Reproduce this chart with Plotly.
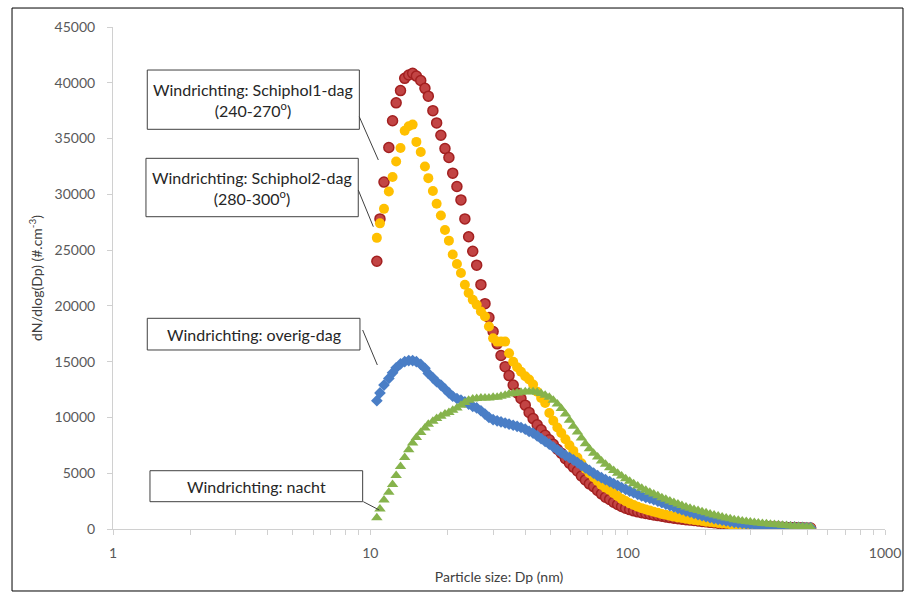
import plotly.graph_objects as go

# Particle diameter channels (nm), 64 channels per decade
dp_nm = [10.6, 10.9, 11.3, 11.8, 12.2, 12.6, 13.1, 13.6, 14.1, 14.6,
         15.1, 15.7, 16.3, 16.8, 17.5, 18.1, 18.8, 19.5, 20.2, 20.9,
         21.7, 22.5, 23.3, 24.1, 25.0, 25.9, 26.9, 27.9, 28.9, 30.0,
         31.1, 32.2, 33.4, 34.6, 35.9, 37.2, 38.5, 40.0, 41.4, 42.9,
         44.5, 46.1, 47.8, 49.6, 51.4, 53.3, 55.2, 57.3, 59.4, 61.5,
         63.8, 66.1, 68.5, 71.0, 73.7, 76.4, 79.1, 82.0, 85.1, 88.2,
         91.4, 94.7, 98.2, 101.8, 105.5, 109.4, 113.4, 117.6, 121.9, 126.3,
         131.0, 135.8, 140.7, 145.9, 151.2, 156.8, 162.5, 168.5, 174.7, 181.1,
         187.7, 194.6, 201.7, 209.1, 216.7, 224.7, 232.9, 241.4, 250.3, 259.5,
         269.0, 278.8, 289.0, 299.6, 310.6, 322.0, 333.8, 346.0, 358.7, 371.8,
         385.4, 399.5, 414.2, 429.4, 445.1, 461.4, 478.3, 495.8, 514.0]

schiphol1_dag = [24000, 27800, 31100, 34200, 36600, 38200, 39300, 40400, 40700, 40850,
                 40600, 40200, 39500, 38800, 37500, 36400, 35300, 34100, 33300, 31900,
                 30700, 29500, 27800, 26200, 24900, 23650, 21900, 20200, 18950, 17700,
                 16600, 15550, 14550, 13750, 12900, 12200, 11700, 11100, 10450, 9900,
                 9350, 8900, 8400, 8000, 7600, 7150, 6800, 6300, 5900, 5550,
                 5200, 4750, 4400, 4050, 3800, 3450, 3150, 2850, 2650, 2400,
                 2200, 2020, 1870, 1740, 1630, 1540, 1460, 1390, 1320, 1260,
                 1200, 1140, 1080, 1020, 970, 920, 880, 840, 800, 760,
                 720, 680, 640, 600, 560, 520, 490, 460, 430, 400,
                 370, 340, 315, 295, 275, 255, 235, 215, 200, 185,
                 170, 155, 145, 135, 125, 115, 105, 95, 85]

schiphol2_dag = [26100, 27400, 28700, 30250, 31550, 32950, 34150, 35700, 36100, 36250,
                 34700, 33800, 32500, 31450, 30300, 29150, 28100, 26800, 25850, 24600,
                 23750, 22950, 21900, 21150, 20550, 20100, 19500, 19050, 18150, 17100,
                 16800, 16800, 16800, 15750, 15000, 14500, 14100, 13700, 13400, 12950,
                 12300, 11750, 11300, 10400, 9700, 9100, 8600, 8050, 7500, 7000,
                 6400, 5900, 5400, 5000, 4650, 4300, 3950, 3700, 3500, 3200,
                 2950, 2700, 2500, 2300, 2150, 2000, 1870, 1750, 1650, 1550,
                 1450, 1350, 1270, 1190, 1110, 1040, 980, 920, 860, 810,
                 760, 710, 660, 620, 580, 540, 500, 465, 430, 400,
                 370, 340, 310, 285, 260, 240, 220, 200, 180, 165,
                 150, 135, 120, 110, 100, 90, 80, 70, 60]

overig_dag = [11500, 12200, 12900, 13500, 14000, 14450, 14800, 15000, 15100, 15100,
              15000, 14750, 14400, 13950, 13550, 13200, 12900, 12550, 12200, 11900,
              11700, 11550, 11400, 11200, 11000, 10850, 10600, 10300, 10000, 9800,
              9700, 9600, 9500, 9400, 9300, 9200, 9100, 8950, 8750, 8600,
              8350, 8100, 7850, 7600, 7350, 7100, 6850, 6600, 6400, 6200,
              5950, 5700, 5480, 5250, 5000, 4780, 4600, 4420, 4250, 4080,
              3900, 3720, 3560, 3400, 3250, 3100, 2960, 2830, 2750, 2620,
              2490, 2360, 2230, 2100, 1970, 1850, 1730, 1610, 1500, 1390,
              1290, 1190, 1100, 1010, 930, 860, 790, 720, 660, 600,
              550, 500, 460, 420, 385, 350, 320, 295, 270, 250,
              230, 210, 195, 180, 165, 150, 140, 130, 120]

nacht = [1000, 1800, 2600, 3300, 4000, 4800, 5600, 6400, 7100, 7700,
         8200, 8650, 9050, 9400, 9650, 9900, 10100, 10300, 10450, 10650,
         10850, 11100, 11350, 11550, 11650, 11700, 11750, 11750, 11750, 11800,
         11800, 11900, 12000, 12100, 12150, 12200, 12250, 12300, 12300, 12300,
         12250, 12150, 12000, 11800, 11550, 11200, 10800, 10300, 9750, 9200,
         8700, 8150, 7650, 7200, 6800, 6450, 6100, 5800, 5500, 5250,
         5000, 4750, 4500, 4280, 4060, 3850, 3660, 3480, 3300, 3130,
         2970, 2810, 2660, 2510, 2370, 2230, 2100, 1980, 1860, 1750,
         1650, 1550, 1450, 1350, 1250, 1160, 1070, 990, 910, 840,
         780, 720, 670, 620, 580, 540, 500, 465, 430, 400,
         370, 340, 310, 280, 255, 230, 205, 180, 160]

y_ticks = [0, 5000, 10000, 15000, 20000, 25000, 30000, 35000, 40000, 45000]
y_ticktext = ["0", "5000", "10000", "15000", "20000", "25000", "30000", "35000", "40000", "45000"]
x_major = [1, 10, 100, 1000]

labels = ["Windrichting: Schiphol1-dag<br>(240-270<sup>o</sup>)",
          "Windrichting: Schiphol2-dag<br>(280-300<sup>o</sup>)",
          "Windrichting: overig-dag",
          "Windrichting: nacht"]

FONT = "Lato"
AXIS_COLOR = "#D0D0D0"
TEXT_COLOR = "#595959"

fig = go.Figure()
fig.add_trace(go.Scatter(x=dp_nm, y=schiphol1_dag, mode="markers", name="Schiphol1-dag",
                         marker=dict(symbol="circle", size=10, color="#C24444",
                                     line=dict(color="#A32020", width=1.5))))
fig.add_trace(go.Scatter(x=dp_nm, y=schiphol2_dag, mode="markers", name="Schiphol2-dag",
                         marker=dict(symbol="circle", size=10, color="#FFC000",
                                     line=dict(width=0))))
fig.add_trace(go.Scatter(x=dp_nm, y=overig_dag, mode="markers", name="overig-dag",
                         marker=dict(symbol="diamond", size=9, color="#4A7EC6",
                                     line=dict(width=0))))
fig.add_trace(go.Scatter(x=dp_nm, y=nacht, mode="markers", name="nacht",
                         marker=dict(symbol="triangle-up", size=10, color="#86B34C",
                                     line=dict(width=0))))

# x ticks: labels only at decades, minor ticks at 2..9
xtickvals = []
xticktext = []
for dec in [1, 10, 100]:
    for m in range(1, 10):
        v = dec * m
        xtickvals.append(v)
        xticktext.append(str(v) if v in x_major else "")
xtickvals.append(1000)
xticktext.append("1000")

fig.update_layout(
    width=911, height=596,
    margin=dict(l=113, r=26, t=27, b=67, autoexpand=False),
    paper_bgcolor="white", plot_bgcolor="white",
    showlegend=False,
    font=dict(family=FONT, size=14, color=TEXT_COLOR),
    xaxis=dict(type="log", range=[0, 3], tickvals=xtickvals, ticktext=xticktext,
               ticks="outside", ticklen=5, tickcolor=AXIS_COLOR, tickwidth=1,
               ticklabelstandoff=6,
               showline=True, linecolor=AXIS_COLOR, linewidth=1,
               showgrid=False, zeroline=False, automargin=False,
               tickfont=dict(family=FONT, size=14, color=TEXT_COLOR),
               title=dict(text="Particle size: Dp (nm)", standoff=12,
                          font=dict(family=FONT, size=14, color="#404040"))),
    yaxis=dict(range=[0, 45000], tickvals=y_ticks, ticktext=y_ticktext,
               ticks="outside", ticklen=5, tickcolor=AXIS_COLOR, tickwidth=1,
               ticklabelstandoff=9,
               showline=True, linecolor=AXIS_COLOR, linewidth=1,
               showgrid=False, zeroline=False, automargin=False,
               tickfont=dict(family=FONT, size=14, color=TEXT_COLOR),
               title=dict(text="dN/dlog(Dp) (#.cm<sup>-3</sup>)", standoff=8,
                          font=dict(family=FONT, size=14, color="#404040"))),
)

# outer frame
fig.add_shape(type="rect", xref="paper", yref="paper",
              x0=-0.1308, x1=1.0233, y0=-0.1235, y1=1.0378,
              line=dict(color="black", width=1), fillcolor="rgba(0,0,0,0)", layer="below")

# callout boxes (paper coords) and connectors
boxes = [(0.0444, 0.3191, 0.7962, 0.9143),
         (0.0427, 0.3177, 0.6221, 0.7384),
         (0.0444, 0.3199, 0.3566, 0.4197),
         (0.0479, 0.3234, 0.0544, 0.1161)]
connectors = [(0.3190, 0.8213, 0.3437, 0.7351),
              (0.3177, 0.6753, 0.3372, 0.6022),
              (0.3234, 0.3964, 0.3424, 0.3267),
              (0.3242, 0.0544, 0.3449, 0.0378)]
for (x0, x1, y0, y1), txt in zip(boxes, labels):
    fig.add_shape(type="rect", xref="paper", yref="paper", x0=x0, x1=x1, y0=y0, y1=y1,
                  line=dict(color="#404040", width=1), fillcolor="white", layer="above")
    fig.add_annotation(xref="paper", yref="paper", x=(x0 + x1) / 2, y=(y0 + y1) / 2,
                       text=txt, showarrow=False, align="center",
                       xanchor="center", yanchor="middle",
                       font=dict(family=FONT, size=16, color="#262626"))
for (x0, y0, x1, y1) in connectors:
    fig.add_shape(type="line", xref="paper", yref="paper", x0=x0, y0=y0, x1=x1, y1=y1,
                  line=dict(color="#404040", width=1))

fig.write_html("out.html", config={"displayModeBar": False},
               post_script="document.body.style.margin='0';document.body.style.overflow='hidden';")
